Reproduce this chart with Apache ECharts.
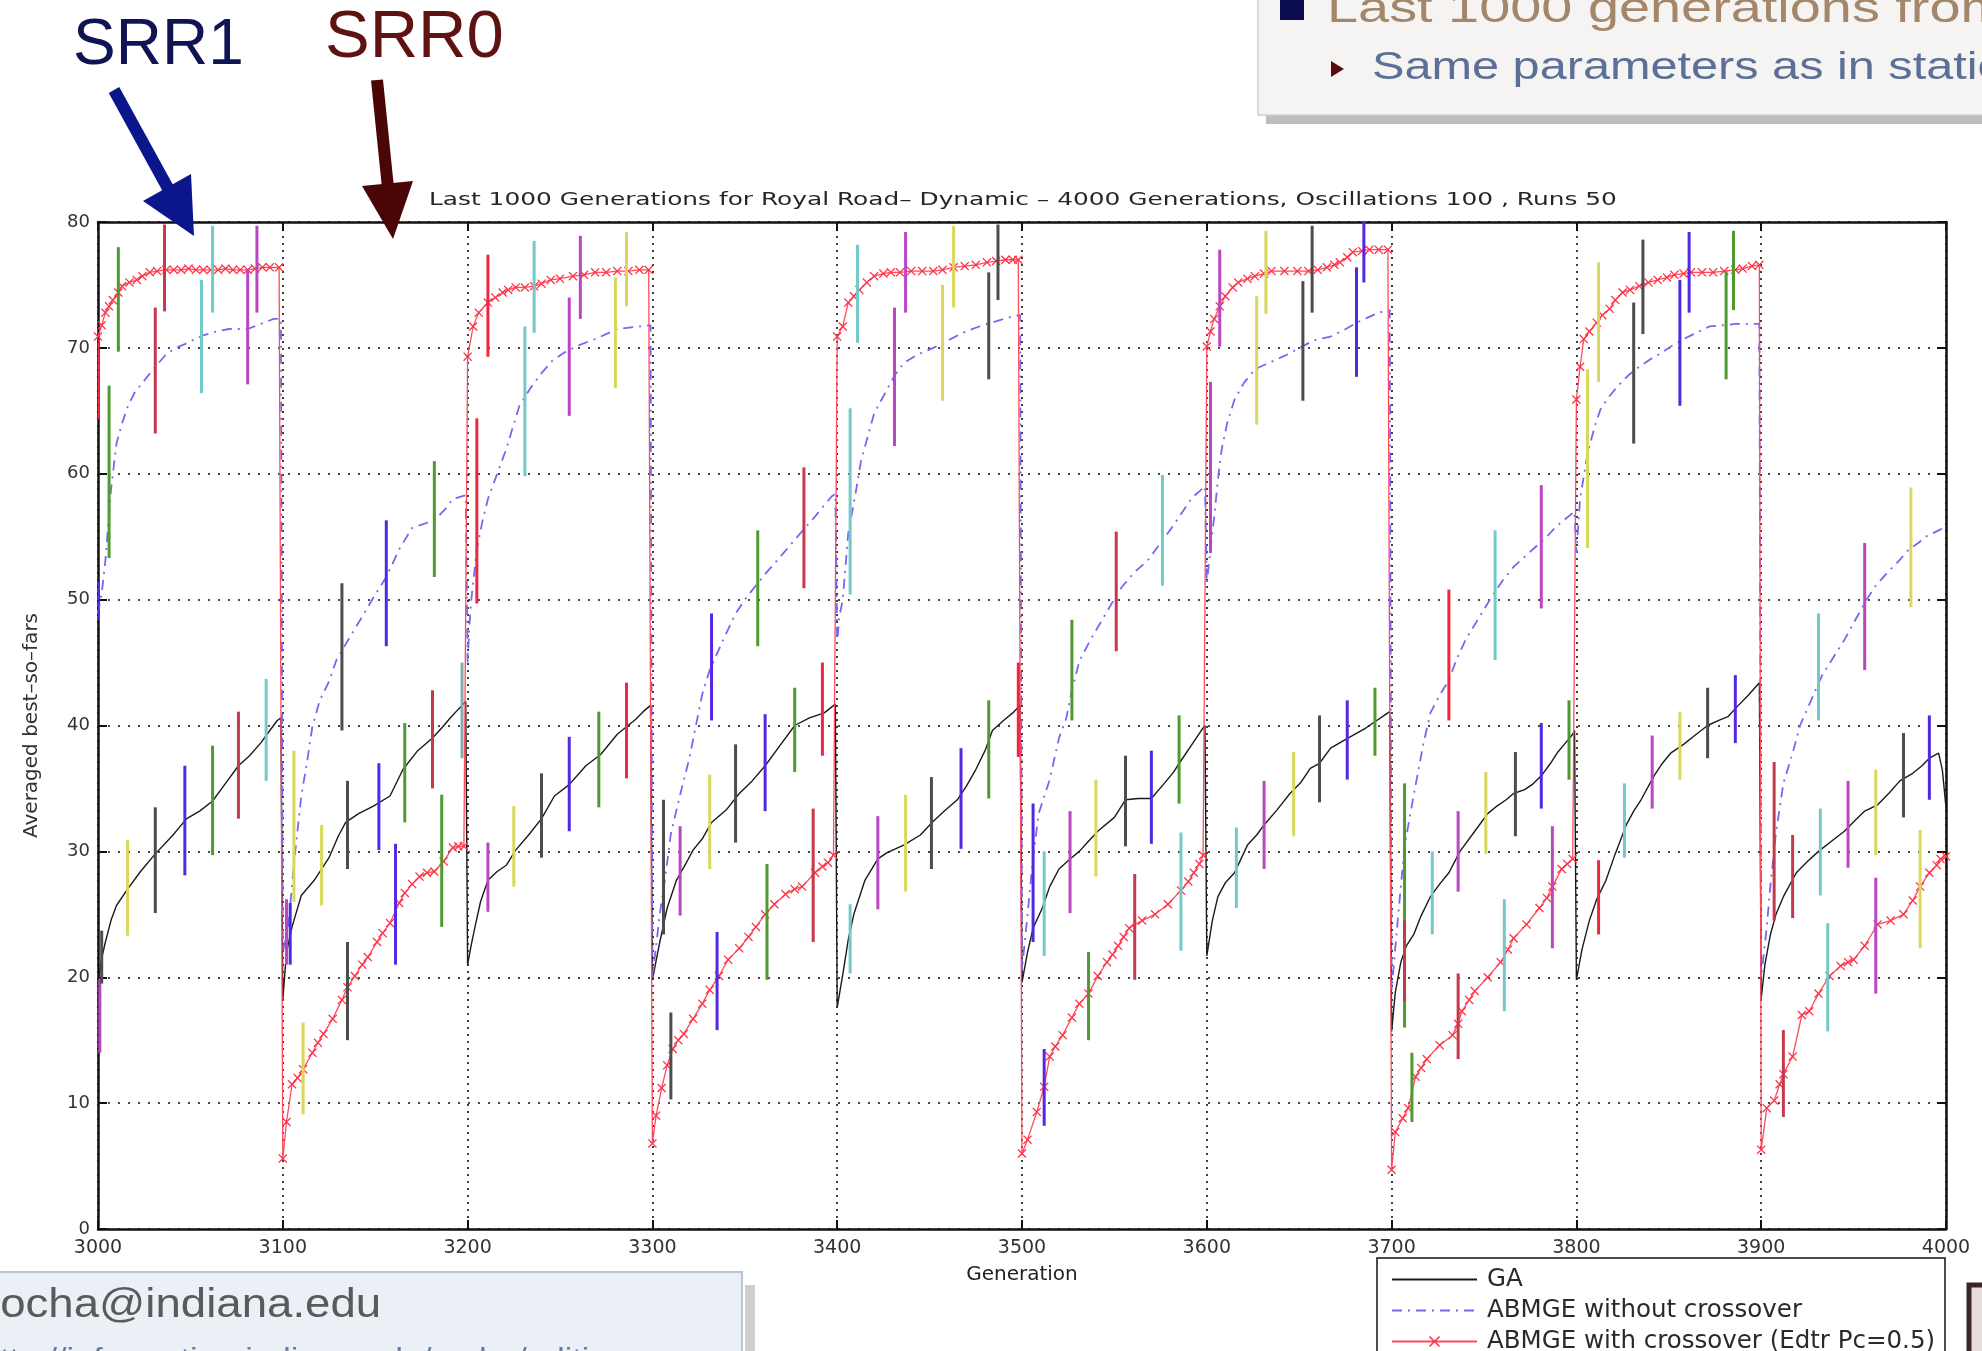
<!DOCTYPE html>
<html>
<head>
<meta charset="utf-8">
<script src="https://cdn.jsdelivr.net/npm/echarts@6/dist/echarts.min.js"></script>
<style>
  html, body { margin: 0; padding: 0; background: #ffffff; }
  #chart { width: 1982px; height: 1351px; }
</style>
</head>
<body>
<div id="chart"></div>
<script>
// Averaged best-so-far fitness, [generation, value], one line per oscillation period
const gaValues = [
  [3000,19.5],[3002,21.5],[3004,22.8],[3007,24.5],[3010,25.7],[3016,27],[3023,28.4],[3031,29.8],[3040,31.2],[3048,32.6],[3055,33.2],[3062,34],[3069,35.4],[3076,36.8],[3082,37.6],[3088,38.6],[3093,39.6],[3097,40.4],[3099,40.6],
  [3100,18.2],[3102,22],[3105,24],[3110,26.5],[3117,27.7],[3125,29.5],[3130,31.2],[3134,32.3],[3141,33],[3149,33.6],[3158,34.4],[3165,36.5],[3173,38],[3181,39],[3186,39.8],[3190,40.5],[3195,41.3],[3199,41.9],
  [3200,21],[3202,22.6],[3204,24],[3207,26],[3211,27.7],[3216,28.4],[3221,28.9],[3226,30.1],[3233,31.3],[3240,32.6],[3247,34.4],[3255,35.3],[3264,36.8],[3272,37.7],[3281,39.3],[3291,40.5],[3295,41.1],[3299,41.6],
  [3300,19.8],[3302,21.3],[3304,22.8],[3308,25.5],[3313,27.7],[3318,29],[3322,30.1],[3327,31],[3332,32.3],[3340,33.3],[3347,34.6],[3354,35.6],[3361,36.8],[3368,38.2],[3377,40],[3385,40.6],[3393,41],[3399,41.7],
  [3400,17.6],[3403,20.2],[3406,23],[3409,25],[3415,27.7],[3422,29.4],[3427,29.9],[3436,30.5],[3445,31.3],[3452,32.4],[3458,33.2],[3465,34.1],[3470,35.2],[3475,36.5],[3480,38],[3484,39.6],[3490,40.4],[3495,41],[3499,41.6],
  [3500,19.6],[3503,22],[3506,23.9],[3511,25.5],[3515,27.2],[3520,28.6],[3526,29.4],[3531,30],[3536,30.8],[3541,31.6],[3550,32.7],[3556,34.1],[3563,34.2],[3570,34.2],[3577,35.4],[3582,36.3],[3586,37.2],[3592,38.5],[3597,39.6],[3599,40],
  [3600,21.7],[3603,24.5],[3606,26.4],[3610,27.5],[3615,28.3],[3622,30.5],[3627,31.3],[3631,32.1],[3638,33.3],[3645,34.6],[3651,35.5],[3656,36.6],[3661,37],[3667,38.2],[3674,38.8],[3680,39.3],[3686,39.8],[3691,40.3],[3696,40.8],[3699,41.1],
  [3700,15.7],[3702,18.8],[3705,21.2],[3708,22.5],[3712,23.4],[3716,24.9],[3721,26.4],[3726,27.4],[3731,28.3],[3737,30],[3745,31.6],[3752,33],[3757,33.6],[3762,34.1],[3766,34.6],[3772,34.9],[3776,35.3],[3781,36],[3786,37],[3790,37.9],[3794,38.6],[3798,39.3],[3799,39.6],
  [3800,19.8],[3803,22.2],[3807,24.5],[3811,26.2],[3816,27.7],[3821,29.8],[3827,32.1],[3831,33.2],[3835,34.1],[3842,36],[3846,36.9],[3851,37.8],[3858,38.5],[3864,39.2],[3871,40],[3877,40.4],[3882,40.7],[3887,41.5],[3893,42.4],[3899,43.4],
  [3900,18.3],[3902,21],[3905,23.4],[3908,25],[3912,26.4],[3919,28.3],[3925,29.2],[3931,30],[3938,30.8],[3945,31.6],[3951,32.5],[3956,33.2],[3963,33.7],[3969,34.6],[3975,35.6],[3982,36.2],[3987,36.8],[3991,37.4],[3996,37.8],[3998,36.5],[4000,33.5]
];

const noCrossoverValues = [
  [3000,48.9],[3002,50.5],[3004,53.1],[3007,58.7],[3010,62.4],[3013,64],[3016,65.3],[3020,66.5],[3025,67.4],[3031,68.5],[3037,69.5],[3042,70],[3047,70.3],[3057,71],[3064,71.3],[3071,71.5],[3081,71.5],[3088,71.9],[3095,72.3],[3099,72.3],
  [3100,22],[3103,24],[3106,29],[3110,34.4],[3113,37],[3116,39.9],[3120,42],[3125,43.5],[3129,45.2],[3137,47.2],[3144,48.9],[3150,50.4],[3156,51.8],[3163,54],[3170,55.7],[3176,56],[3182,56.3],[3188,57.2],[3192,58],[3199,58.3],
  [3200,45],[3201,48],[3202,50],[3205,54],[3208,56.2],[3211,58],[3216,60],[3221,62],[3228,65.4],[3234,66.8],[3240,68],[3246,69],[3252,69.6],[3260,70.2],[3269,70.7],[3281,71.5],[3293,71.7],[3299,71.8],
  [3300,20],[3304,25],[3307,28],[3310,31.4],[3315,34.5],[3320,37.4],[3327,42.5],[3331,44.4],[3338,46.7],[3345,48.9],[3351,50.2],[3357,51.3],[3362,52.2],[3368,53.2],[3375,54.4],[3382,55.6],[3388,56.6],[3393,57.5],[3397,58.2],[3399,58.4],
  [3400,46.5],[3401,48.5],[3403,50],[3406,55.3],[3410,58.5],[3413,61.1],[3417,63.2],[3420,64.8],[3427,66.7],[3431,67.8],[3436,68.8],[3444,69.5],[3452,70],[3460,70.6],[3468,71.2],[3475,71.6],[3481,71.9],[3488,72.2],[3495,72.5],[3499,72.6],
  [3500,20.6],[3503,25],[3506,29.5],[3509,33],[3515,35.7],[3520,39],[3524,40.6],[3527,42.8],[3531,45.1],[3537,46.8],[3543,48.3],[3549,49.8],[3554,51],[3561,52.2],[3568,53.1],[3575,54.5],[3581,55.7],[3587,57],[3592,58.1],[3596,58.6],[3599,59],
  [3600,51.3],[3602,54],[3604,56.6],[3606,59.5],[3608,61.9],[3611,64],[3615,65.9],[3620,67.2],[3626,68.3],[3632,68.7],[3638,69.1],[3644,69.5],[3649,69.9],[3658,70.6],[3667,70.9],[3674,71.4],[3681,72],[3687,72.4],[3693,72.8],[3699,73],
  [3700,19],[3703,24],[3707,30.4],[3712,34.5],[3717,38.4],[3721,41],[3726,42.4],[3731,43.6],[3735,45.2],[3740,46.8],[3747,48.5],[3754,50.2],[3760,51.5],[3766,52.6],[3772,53.4],[3778,54.2],[3784,55],[3789,55.8],[3794,56.4],[3799,57],
  [3800,53.7],[3802,58],[3806,61.6],[3810,63.8],[3813,65.1],[3817,66],[3822,66.9],[3828,67.8],[3834,68.5],[3840,69.1],[3846,69.6],[3852,70.2],[3858,70.7],[3865,71.2],[3872,71.7],[3880,71.8],[3886,71.9],[3895,71.9],[3899,71.9],
  [3900,20],[3903,24],[3905,27.3],[3908,31.5],[3912,35.4],[3917,37.8],[3921,40],[3927,42],[3933,44],[3939,45.4],[3945,46.8],[3951,48.4],[3957,50],[3962,51.1],[3968,52.1],[3974,53],[3980,54],[3985,54.5],[3989,55],[3996,55.5],[4000,55.8]
];

const crossoverValues = [
  [3000,70.9],[3002,71.8],[3004,72.8],[3006,73.3],[3008,73.8],[3011,74.4],[3013,74.9],[3017,75.2],[3021,75.4],[3024,75.7],[3028,76],[3032,76.1],[3037,76.2],[3041,76.2],[3045,76.2],[3049,76.3],[3053,76.2],[3057,76.2],[3061,76.2],[3065,76.2],[3069,76.3],[3073,76.2],[3077,76.2],[3081,76.2],[3085,76.3],[3089,76.4],[3093,76.4],[3098,76.4],
  [3100,5.6],[3102,8.5],[3105,11.5],[3108,12],[3111,12.7],[3116,14],[3119,14.8],[3122,15.5],[3127,16.7],[3132,18.2],[3135,19.2],[3139,20.1],[3143,21],[3146,21.6],[3151,22.8],[3154,23.5],[3158,24.3],[3163,25.9],[3166,26.7],[3170,27.4],[3174,28],[3178,28.3],[3182,28.4],[3187,29.2],[3192,30.3],[3195,30.4],[3198,30.4],
  [3200,69.3],[3203,71.7],[3206,72.8],[3211,73.6],[3215,74],[3219,74.4],[3222,74.6],[3226,74.8],[3231,74.8],[3236,74.9],[3240,75.1],[3245,75.4],[3250,75.5],[3257,75.7],[3263,75.8],[3269,76],[3275,76],[3281,76.1],[3287,76.1],[3293,76.2],[3298,76.2],
  [3300,6.8],[3302,9],[3305,11.2],[3308,13],[3311,14.3],[3314,15],[3317,15.5],[3322,16.7],[3327,17.9],[3331,19],[3336,20.1],[3341,21.4],[3347,22.3],[3352,23.2],[3356,24],[3361,25],[3366,25.8],[3372,26.6],[3377,27],[3381,27.2],[3388,28.3],[3392,28.8],[3395,29.1],[3398,29.7],
  [3400,70.9],[3403,71.7],[3406,73.6],[3409,74.1],[3412,74.6],[3416,75.2],[3420,75.7],[3425,75.9],[3429,76],[3434,76],[3440,76.1],[3446,76.1],[3452,76.1],[3457,76.2],[3463,76.4],[3469,76.5],[3475,76.6],[3481,76.8],[3486,76.9],[3491,77],[3495,77],[3498,77],
  [3500,6],[3503,7.1],[3508,9.3],[3512,11.3],[3515,13.7],[3518,14.5],[3522,15.4],[3527,16.8],[3531,17.9],[3536,18.7],[3541,20.1],[3546,21.2],[3549,21.8],[3552,22.5],[3555,23.2],[3558,23.9],[3565,24.5],[3572,25],[3579,25.8],[3586,26.9],[3590,27.6],[3593,28.3],[3596,29],[3598,29.7],
  [3600,70.1],[3602,71.3],[3604,72.3],[3607,73.3],[3610,74.1],[3614,74.8],[3617,75.2],[3622,75.5],[3626,75.7],[3631,75.9],[3635,76.1],[3642,76.1],[3649,76.1],[3655,76.1],[3660,76.2],[3665,76.4],[3669,76.6],[3672,76.8],[3676,77.2],[3679,77.6],[3684,77.7],[3688,77.8],[3693,77.8],[3698,77.8],
  [3700,4.7],[3702,7.7],[3706,8.8],[3709,9.6],[3713,12.1],[3716,12.8],[3719,13.5],[3726,14.6],[3733,15.4],[3736,16.3],[3738,17.3],[3742,18.2],[3745,18.9],[3752,20],[3759,21.2],[3763,22.2],[3766,23.1],[3773,24.2],[3780,25.5],[3784,26.3],[3787,27.2],[3792,28.6],[3795,29],[3798,29.4],
  [3800,65.9],[3802,68.5],[3804,70.7],[3807,71.3],[3811,72],[3814,72.6],[3818,73.1],[3821,73.8],[3825,74.4],[3829,74.6],[3834,74.9],[3839,75.2],[3844,75.4],[3849,75.6],[3853,75.8],[3858,75.9],[3862,76],[3868,76],[3874,76],[3880,76.1],[3886,76.2],[3890,76.3],[3895,76.5],[3899,76.6],
  [3900,6.3],[3903,9.6],[3907,10.2],[3910,11.5],[3912,12.3],[3917,13.7],[3922,17],[3926,17.3],[3931,18.7],[3937,20.1],[3943,20.9],[3947,21.2],[3950,21.4],[3956,22.5],[3963,24.2],[3970,24.5],[3977,25],[3982,26.1],[3986,27.2],[3991,28.3],[3995,28.9],[3997,29.4],[4000,29.6]
];

// Spread over the 50 runs: [generation, low, high, colour key]
const errorBars = [
  [3000,48.4,51.4,'b'],[3000,64.3,70.7,'R'],[3001,14,19.9,'m'],[3002,19.5,23.7,'k'],
  [3006,53.3,67,'g'],[3011,69.7,78,'g'],[3016,23.3,30.9,'y'],
  [3031,63.2,73.2,'r'],[3031,25.1,33.5,'k'],[3036,72.9,79.8,'r'],
  [3047,28.1,36.8,'b'],[3056,66.4,75.4,'c'],[3062,72.8,79.7,'c'],[3062,29.7,38.4,'g'],
  [3076,32.6,41.1,'r'],[3081,67.1,76.2,'m'],[3086,72.8,79.7,'m'],[3091,35.6,43.7,'c'],

  [3102,21,26.2,'m'],[3104,21,25.9,'b'],[3106,26,38,'y'],[3111,9.1,16.4,'y'],[3121,25.7,32.1,'y'],
  [3132,39.6,51.3,'k'],[3135,28.6,35.6,'k'],[3135,15,22.8,'k'],[3152,30.1,37,'b'],[3156,46.3,56.3,'b'],
  [3161,21,30.6,'b'],[3166,32.3,40.2,'g'],[3181,35,42.8,'r'],[3182,51.8,61,'g'],[3186,24,34.5,'g'],[3197,37.4,45,'t'],

  [3205,49.7,64.4,'R'],[3211,69.3,77.4,'R'],[3211,25.2,30.7,'m'],[3225,27.2,33.6,'y'],
  [3231,59.8,71.7,'c'],[3236,71.2,78.5,'c'],[3240,29.5,36.2,'k'],[3255,64.6,74,'m'],[3255,31.6,39.1,'b'],
  [3261,72.3,78.9,'m'],[3271,33.5,41.1,'g'],[3280,66.8,75.6,'y'],[3286,73.3,79.2,'y'],[3286,35.8,43.4,'R'],

  [3306,23.4,34.1,'k'],[3310,10.3,17.2,'k'],[3315,24.9,32,'m'],[3331,28.6,36.1,'y'],[3332,40.4,48.9,'b'],
  [3335,15.8,23.6,'b'],[3345,30.7,38.5,'k'],[3357,46.3,55.5,'g'],[3361,33.2,40.9,'b'],[3362,19.8,29,'g'],
  [3377,36.3,43,'g'],[3382,50.9,60.5,'r'],[3387,22.8,33.4,'r'],[3392,37.6,45,'R'],

  [3407,50.4,65.2,'c'],[3407,20.3,25.8,'c'],[3411,70.4,78.2,'c'],[3422,25.4,32.8,'m'],[3431,62.2,73.2,'m'],
  [3437,72.8,79.2,'m'],[3437,26.8,34.5,'y'],[3451,28.6,35.9,'k'],[3457,65.8,75,'y'],[3463,73.2,79.7,'y'],
  [3467,30.2,38.2,'b'],[3482,67.5,76,'k'],[3482,34.2,42,'g'],[3487,73.8,79.8,'k'],[3498,37.5,45,'R'],

  [3506,22.8,33.8,'b'],[3512,8.2,14.3,'b'],[3512,21.7,30,'c'],[3526,25.1,33.2,'m'],[3527,40.4,48.4,'g'],
  [3536,15,22,'g'],[3540,28,35.7,'y'],[3551,45.9,55.4,'r'],[3556,30.4,37.6,'k'],[3561,19.8,28.2,'r'],
  [3570,30.6,38,'b'],[3576,51.1,59.9,'c'],[3585,33.8,40.8,'g'],[3586,22.1,31.5,'c'],

  [3602,53.7,67.3,'m'],[3607,70.1,77.8,'m'],[3616,25.5,31.9,'c'],[3627,63.9,74.1,'y'],[3631,28.6,35.6,'m'],
  [3632,72.7,79.3,'y'],[3647,31.2,37.9,'y'],[3652,65.8,75.3,'k'],[3657,72.8,79.7,'k'],[3661,33.9,40.8,'k'],
  [3676,35.7,42,'b'],[3681,67.7,76.4,'b'],[3685,75.2,80,'b'],[3691,37.6,43,'g'],

  [3707,16,35.4,'g'],[3707,18.1,24.5,'r'],[3711,8.5,14,'g'],[3722,23.4,30,'c'],[3731,40.4,50.8,'R'],
  [3736,13.5,20.3,'r'],[3736,26.8,33.2,'m'],[3751,29.8,36.3,'y'],[3756,45.2,55.5,'c'],[3761,17.3,26.2,'c'],
  [3767,31.2,37.9,'k'],[3781,49.3,59.1,'m'],[3781,33.4,40.2,'b'],[3787,22.3,32,'m'],[3796,35.7,42,'g'],

  [3806,54.1,68.3,'y'],[3812,67.3,76.8,'y'],[3812,23.4,29.3,'R'],[3826,29.5,35.4,'c'],[3831,62.4,73.6,'k'],
  [3836,71.1,78.6,'k'],[3841,33.4,39.2,'m'],[3856,65.4,75.4,'b'],[3856,35.7,41.1,'y'],[3861,72.8,79.2,'b'],
  [3871,37.4,43,'k'],[3881,67.5,76.1,'g'],[3885,73,79.3,'g'],[3886,38.6,44,'b'],

  [3907,24.5,37.1,'r'],[3912,8.9,15.8,'r'],[3917,24.7,31.3,'r'],[3931,40.4,48.9,'c'],[3932,26.5,33.4,'c'],
  [3936,15.7,24.3,'c'],[3947,28.7,35.6,'m'],[3956,44.4,54.5,'m'],[3962,18.7,27.9,'m'],[3962,29.7,36.5,'y'],
  [3977,32.7,39.4,'k'],[3981,49.4,58.9,'y'],[3986,22.3,31.7,'y'],[3991,34.1,40.8,'b']
];

const barColors = {
  g: '#4f9a2e', r: '#c43a4c', R: '#f2243e', c: '#72c9c9', m: '#bb46c2',
  y: '#d9d85a', k: '#4d4d4d', b: '#5228e2', t: '#86acac'
};

const seriesNames = ['GA', 'ABMGE without crossover', 'ABMGE with crossover (Edtr Pc=0.5)'];
const chartTitle = 'Last 1000 Generations for Royal Road\u2013 Dynamic \u2013 4000 Generations, Oscillations 100 , Runs 50';

const crossMarker = 'path://M0,1L1,0L5,4L9,0L10,1L6,5L10,9L9,10L5,6L1,10L0,9L4,5Z';
const chartFont = 'DejaVu Sans';

const chart = echarts.init(document.getElementById('chart'), null, { renderer: 'canvas' });

const axisLineStyle = { color: '#111', width: 2.5 };
const tickStyle = { show: true, inside: true, length: 9, lineStyle: { color: '#111', width: 2 } };

const option = {
  animation: false,
  backgroundColor: '#ffffff',
  grid: { left: 98, right: 36, top: 222, bottom: 122, containLabel: false },
  xAxis: [{
    type: 'value', min: 3000, max: 4000, interval: 100, position: 'bottom',
    name: 'Generation', nameLocation: 'middle', nameGap: 36,
    nameTextStyle: { fontFamily: chartFont, fontSize: 20, color: '#222' },
    axisLine: { show: true, onZero: false, lineStyle: axisLineStyle },
    axisTick: tickStyle,
    axisLabel: { fontFamily: chartFont, fontSize: 19, color: '#333', margin: 10, formatter: v => String(v) },
    splitLine: { show: true, lineStyle: { color: '#111', width: 1.6, type: [2, 5] } }
  }, {
    type: 'value', min: 3000, max: 4000, interval: 100, position: 'top',
    axisLine: { show: true, onZero: false, lineStyle: axisLineStyle },
    axisTick: tickStyle, axisLabel: { show: false }, splitLine: { show: false }
  }],
  yAxis: [{
    type: 'value', min: 0, max: 80, interval: 10, position: 'left',
    name: 'Averaged best\u2013so\u2013fars', nameLocation: 'middle', nameGap: 56,
    nameTextStyle: { fontFamily: chartFont, fontSize: 20, color: '#333' },
    axisLine: { show: true, onZero: false, lineStyle: axisLineStyle },
    axisTick: tickStyle,
    axisLabel: { fontFamily: chartFont, fontSize: 18, color: '#333', margin: 8 },
    splitLine: { show: true, lineStyle: { color: '#111', width: 1.6, type: [2, 8] } }
  }, {
    type: 'value', min: 0, max: 80, interval: 10, position: 'right',
    axisLine: { show: true, onZero: false, lineStyle: axisLineStyle },
    axisTick: tickStyle, axisLabel: { show: false }, splitLine: { show: false }
  }],
  legend: {
    data: [
      { name: seriesNames[0], itemStyle: { opacity: 0 } },
      { name: seriesNames[1], itemStyle: { opacity: 0 } },
      { name: seriesNames[2] }
    ],
    orient: 'vertical', left: 1377, top: 1258, height: 160,
    padding: [9, 6, 9, 14], itemGap: 6, itemWidth: 85, itemHeight: 14,
    backgroundColor: '#ffffff', borderColor: '#111', borderWidth: 1.5, borderRadius: 0,
    selectedMode: false,
    textStyle: { fontFamily: chartFont, fontSize: 24.5, color: '#2a2a2a', width: 452, lineHeight: 25, padding: [0, 0, 0, 5] }
  },
  series: [{
    name: seriesNames[0], type: 'line', data: gaValues,
    symbol: 'none', color: '#1a1a1a',
    lineStyle: { color: '#1a1a1a', width: 1.4 }, z: 3
  }, {
    name: seriesNames[1], type: 'line', data: noCrossoverValues,
    symbol: 'none', color: '#7866f0',
    lineStyle: { color: '#7866f0', width: 1.8, type: [10, 6, 2, 6] }, z: 3
  }, {
    name: seriesNames[2], type: 'line', data: crossoverValues,
    symbol: crossMarker, symbolSize: 9, showAllSymbol: true, color: '#ff3246',
    itemStyle: { color: '#ff3246' },
    lineStyle: { color: '#ff4a5c', width: 1.3 }, z: 4
  }, {
    name: 'spread', type: 'custom', clip: true, z: 5,
    data: errorBars.map(b => [b[0], b[1], b[2]]),
    encode: { x: 0, y: [1, 2] },
    renderItem: (params, api) => {
      const x = api.value(0);
      const lo = api.coord([x, api.value(1)]);
      const hi = api.coord([x, api.value(2)]);
      return {
        type: 'line',
        shape: { x1: lo[0], y1: lo[1], x2: hi[0], y2: hi[1] },
        style: { stroke: barColors[errorBars[params.dataIndex][3]], lineWidth: 3 }
      };
    }
  }],
  graphic: { elements: [
    // plot title
    { type: 'text', x: 429, y: 201, scaleX: 1.46, z: 20,
      style: { text: chartTitle, fill: '#262626', font: '17px "DejaVu Sans"', textAlign: 'left', textVerticalAlign: 'middle' } },

    // slide callouts
    { type: 'text', x: 73, y: 46, z: 30,
      style: { text: 'SRR1', fill: '#0e1552', font: '64px "Liberation Sans"', textAlign: 'left', textVerticalAlign: 'middle' } },
    { type: 'text', x: 325, y: 39, z: 30,
      style: { text: 'SRR0', fill: '#5e1212', font: '67px "Liberation Sans"', textAlign: 'left', textVerticalAlign: 'middle' } },
    { type: 'line', z: 30, shape: { x1: 114, y1: 90, x2: 170, y2: 192 },
      style: { stroke: '#0b168c', lineWidth: 12 } },
    { type: 'polygon', z: 30, shape: { points: [[143, 201], [191, 174], [194, 236]] },
      style: { fill: '#0b168c' } },
    { type: 'line', z: 30, shape: { x1: 377, y1: 80, x2: 388, y2: 188 },
      style: { stroke: '#4a0606', lineWidth: 12 } },
    { type: 'polygon', z: 30, shape: { points: [[362, 186], [413, 181], [393, 239]] },
      style: { fill: '#4a0606' } },

    // slide text box, top right
    { type: 'rect', z: 1, shape: { x: 1266, y: 0, width: 730, height: 124 }, style: { fill: '#bdbdbd' } },
    { type: 'rect', z: 2, shape: { x: 1258, y: -10, width: 740, height: 125 },
      style: { fill: '#f6f4f2', stroke: '#cfcfcf', lineWidth: 1.5 } },
    { type: 'rect', z: 3, shape: { x: 1280, y: -5, width: 24, height: 25 }, style: { fill: '#0b0b50' } },
    { type: 'text', x: 1327, y: 10, scaleX: 1.33, z: 3,
      style: { text: 'Last 1000 generations from', fill: '#a4876a', font: '42px "Liberation Sans"', textAlign: 'left', textVerticalAlign: 'middle' } },
    { type: 'polygon', z: 3, shape: { points: [[1331, 61], [1331, 77], [1344, 69]] }, style: { fill: '#5a0a12' } },
    { type: 'text', x: 1372, y: 69, scaleX: 1.28, z: 3,
      style: { text: 'Same parameters as in static', fill: '#5c6f96', font: '38px "Liberation Sans"', textAlign: 'left', textVerticalAlign: 'middle' } },

    // slide footer, bottom left
    { type: 'rect', z: 1, shape: { x: 745, y: 1285, width: 10, height: 80 }, style: { fill: '#cfcfcf' } },
    { type: 'rect', z: 2, shape: { x: -4, y: 1272, width: 746, height: 100 },
      style: { fill: '#eaf0f5', stroke: '#b5c7d6', lineWidth: 2 } },
    { type: 'text', x: -15, y: 1306, scaleX: 1.14, z: 3,
      style: { text: 'rocha@indiana.edu', fill: '#5a5a5a', font: '40px "Liberation Sans"', textAlign: 'left', textVerticalAlign: 'middle' } },
    { type: 'text', x: -19, y: 1361, scaleX: 1.14, z: 3,
      style: { text: 'http://information.indiana.edu/rocha/editing', fill: '#6a7a9a', font: '30px "Liberation Sans"', textAlign: 'left', textVerticalAlign: 'middle' } },

    // slide navigation button, bottom right
    { type: 'rect', z: 2, shape: { x: 1969, y: 1285, width: 30, height: 80 },
      style: { fill: '#e6dcdc', stroke: '#3a2626', lineWidth: 5 } }
  ] }
};

chart.setOption(option);
</script>
</body>
</html>
